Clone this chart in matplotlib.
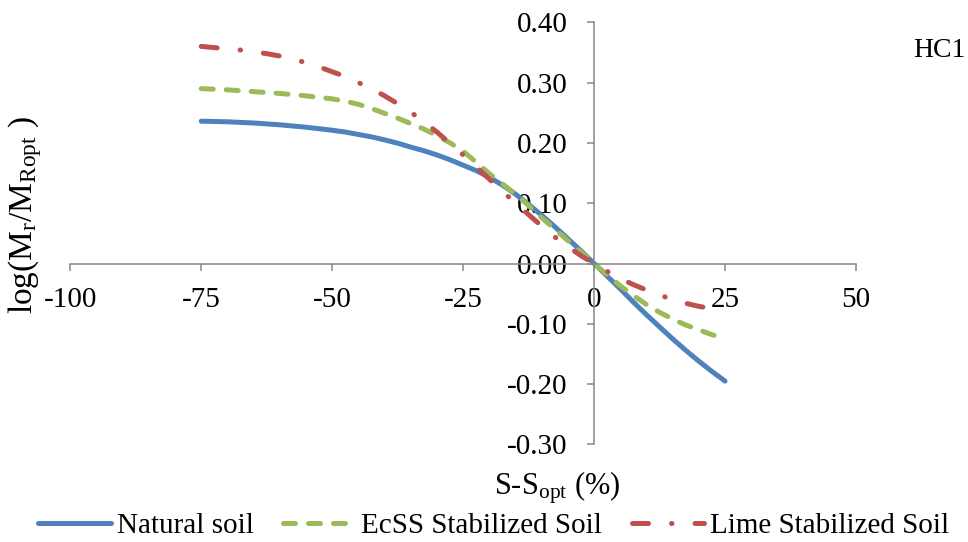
import matplotlib
matplotlib.use("Agg")
import matplotlib.pyplot as plt

plt.rcParams['font.family'] = ['Liberation Serif', 'DejaVu Serif']
plt.rcParams['mathtext.fontset'] = 'custom'
plt.rcParams['mathtext.rm'] = 'Liberation Serif'
plt.rcParams['mathtext.it'] = 'Liberation Serif:italic'

# degree of saturation relative to optimum (%)
s_diff = [-75, -72.5, -70, -67.5, -65, -62.5, -60, -57.5, -55, -52.5, -50,
          -47.5, -45, -42.5, -40, -37.5, -35, -32.5, -30, -27.5, -25,
          -22.5, -20, -17.5, -15, -12.5, -10, -7.5, -5, -2.5, 0,
          2.5, 5, 7.5, 10, 12.5, 15, 17.5, 20, 22.5, 25]

# log(Mr/Mr,opt) for each soil
natural = [0.236, 0.2355, 0.235, 0.234, 0.233, 0.2315, 0.230, 0.228, 0.226, 0.2235, 0.221,
           0.218, 0.214, 0.210, 0.205, 0.1995, 0.193, 0.187, 0.180, 0.172, 0.163,
           0.154, 0.143, 0.130, 0.115, 0.098, 0.080, 0.061, 0.041, 0.021, 0.000,
           -0.021, -0.042, -0.064, -0.085, -0.105, -0.125, -0.144, -0.162, -0.179, -0.195]
ecss = [0.290, 0.289, 0.288, 0.2865, 0.285, 0.2835, 0.282, 0.280, 0.278, 0.2755, 0.273,
        0.269, 0.264, 0.257, 0.249, 0.241, 0.232, 0.223, 0.212, 0.200, 0.186,
        0.168, 0.149, 0.132, 0.115, 0.096, 0.076, 0.057, 0.038, 0.019, 0.000,
        -0.019, -0.037, -0.053, -0.068, -0.081, -0.092, -0.102, -0.110, -0.118, -0.125]
lime = [0.360, 0.358, 0.356, 0.354, 0.351, 0.348, 0.344, 0.339, 0.333, 0.326, 0.318,
        0.310, 0.300, 0.290, 0.278, 0.265, 0.251, 0.235, 0.218, 0.199, 0.180,
        0.160, 0.140, 0.120, 0.100, 0.081, 0.062, 0.044, 0.028, 0.013, 0.000,
        -0.013, -0.025, -0.035, -0.044, -0.052, -0.060, -0.066, -0.071, -0.075, -0.078]

x_ticks = [-100, -75, -50, -25, 0, 25, 50]
y_ticks = [-0.30, -0.20, -0.10, 0.00, 0.10, 0.20, 0.30, 0.40]

fig = plt.figure(figsize=(9.68, 5.42), dpi=100)
ax = fig.add_axes([0.0726, 0.18, 0.8117, 0.7789])

lw = 3.6
ax.plot(s_diff, natural, color='#4F81BD', lw=lw, solid_capstyle='round',
        solid_joinstyle='round', label='Natural soil')
ax.plot(s_diff, ecss, color='#9BBB59', lw=lw, dashes=(2.4, 2.6),
        dash_capstyle='round', dash_joinstyle='round', label='EcSS Stabilized Soil')
ax.plot(s_diff, lime, color='#C0504D', lw=lw, dashes=(3.2, 4.6, 0.1, 4.6),
        dash_capstyle='round', dash_joinstyle='round', label='Lime Stabilized Soil')

ax.set_xlim(-100, 50)
ax.set_ylim(-0.30, 0.40)
ax.set_xticks(x_ticks)
ax.set_yticks(y_ticks)
ax.set_xticklabels([str(v) for v in x_ticks])
ax.set_yticklabels(['%.2f' % v for v in y_ticks])

# axes cross at the origin
for side in ['top', 'right']:
    ax.spines[side].set_visible(False)
ax.spines['left'].set_position(('data', 0))
ax.spines['bottom'].set_position(('data', 0))
for side in ['left', 'bottom']:
    ax.spines[side].set_color('#868686')
    ax.spines[side].set_linewidth(1.1)
ax.tick_params(axis='both', colors='#868686', labelcolor='black',
               labelsize=21, width=1.1, length=5, direction='out')
ax.tick_params(axis='y', pad=14)
ax.tick_params(axis='x', pad=12)

fig.text(557 / 968, 1 - 488 / 542, r'S-S$_{\mathrm{opt}}$ (%)', fontsize=22,
         ha='center', va='center')
fig.text(25 / 968, 1 - 215 / 542, r'log(M$_{\mathrm{r}}$/M$_{\mathrm{Ropt}}$ )',
         fontsize=24, rotation=90, ha='center', va='center')
fig.text(913 / 968, 1 - 57 / 542, 'HC1', fontsize=20, ha='left', va='baseline')

fig.legend(loc='center', bbox_to_anchor=(0.51, 0.030), ncol=3, frameon=False,
           fontsize=21, handlelength=2.5, handletextpad=0.2, columnspacing=1.0,
           borderaxespad=0)

fig.savefig('out.png', dpi=100)
